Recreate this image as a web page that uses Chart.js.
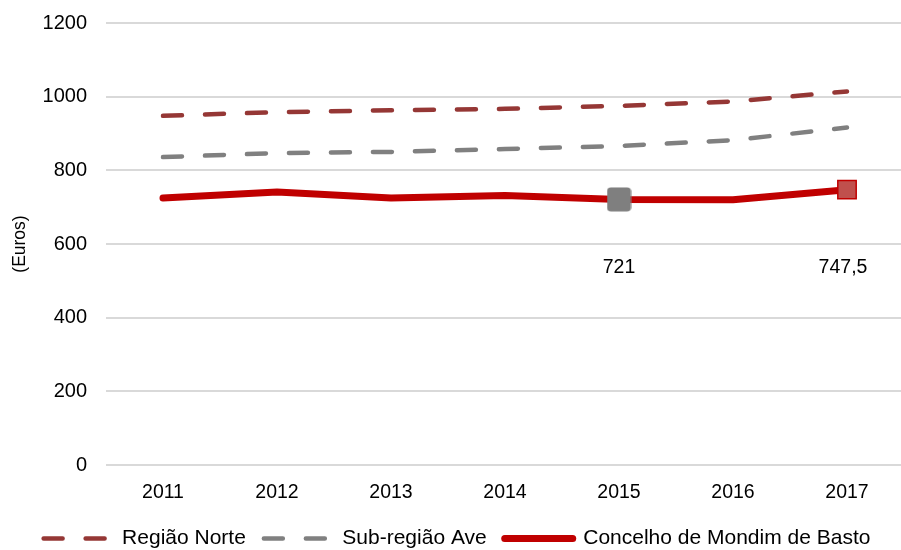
<!DOCTYPE html>
<html>
<head>
<meta charset="utf-8">
<script src="https://cdn.jsdelivr.net/npm/chart.js@4.4.0/dist/chart.umd.min.js"></script>
<style>
    html, body { margin: 0; padding: 0; background: #ffffff; overflow: hidden; }
    #wrap { position: relative; width: 904px; height: 550px; }
</style>
</head>
<body>
<div id="wrap"><canvas id="salarioChart"></canvas></div>
<script>
var years = ['2011', '2012', '2013', '2014', '2015', '2016', '2017'];
var regiaoNorte = [948, 958, 963, 967, 975, 987, 1014];
var subRegiaoAve = [836, 847, 850, 858, 866, 882, 916];
var mondimBasto = [725, 741, 725, 732, 721, 720, 747.5];
var mondimLabels = ['', '', '', '', '721', '', '747,5'];
var yTicks = [0, 200, 400, 600, 800, 1000, 1200];

var FONT = '"Liberation Sans", Arial, sans-serif';

// rounded grey marker for 2015
function makeRoundedMarker() {
    var c = document.createElement('canvas');
    c.width = 25;
    c.height = 25;
    var g = c.getContext('2d');
    g.fillStyle = '#7f7f7f';
    g.beginPath();
    g.roundRect(0.5, 0.5, 24, 24, 4);
    g.fill();
    return c;
}
var greyMarker = makeRoundedMarker();

var valueLabels = {
    id: 'valueLabels',
    afterDatasetsDraw: function(chart) {
        var ctx = chart.ctx;
        var meta = chart.getDatasetMeta(2);
        ctx.save();
        ctx.font = '19.5px ' + FONT;
        ctx.fillStyle = '#000000';
        ctx.textAlign = 'center';
        ctx.textBaseline = 'middle';
        for (var i = 0; i < mondimLabels.length; i++) {
            if (!mondimLabels[i]) continue;
            var pt = meta.data[i];
            ctx.fillText(mondimLabels[i], pt.x - (i === 6 ? 4 : 0), chart.scales.y.getPixelForValue(535));
        }
        ctx.restore();
    }
};

function noEdgePadding(scale) {
    scale.paddingLeft = 0;
    scale.paddingRight = 0;
    scale.paddingTop = 0;
    scale.paddingBottom = 0;
}

var ctx = document.getElementById('salarioChart').getContext('2d');
var chart = new Chart(ctx, {
    type: 'line',
    data: {
        labels: years,
        datasets: [
            {
                label: 'Região Norte',
                data: regiaoNorte,
                borderColor: '#953735',
                backgroundColor: '#953735',
                borderWidth: 4.5,
                borderDash: [19, 23],
                borderCapStyle: 'round',
                tension: 0,
                pointRadius: 0,
                fill: false
            },
            {
                label: 'Sub-região Ave',
                data: subRegiaoAve,
                borderColor: '#808080',
                backgroundColor: '#808080',
                borderWidth: 4.5,
                borderDash: [19, 23],
                borderCapStyle: 'round',
                tension: 0,
                pointRadius: 0,
                fill: false
            },
            {
                label: 'Concelho de Mondim de Basto',
                data: mondimBasto,
                borderColor: '#c00000',
                backgroundColor: '#c0504d',
                borderWidth: 7,
                borderCapStyle: 'round',
                borderJoinStyle: 'round',
                tension: 0,
                pointStyle: ['circle', 'circle', 'circle', 'circle', greyMarker, 'circle', 'rect'],
                pointRadius: [0, 0, 0, 0, 12, 0, 13],
                pointBorderWidth: [0, 0, 0, 0, 0, 0, 1.5],
                pointBorderColor: '#c00000',
                pointBackgroundColor: '#c0504d',
                pointHoverRadius: 0,
                fill: false
            }
        ]
    },
    options: {
        responsive: true,
        maintainAspectRatio: false,
        animation: false,
        layout: { autoPadding: false, padding: { left: 10, right: 0, top: 23, bottom: -9 } },
        plugins: {
            tooltip: { enabled: false },
            legend: {
                position: 'bottom',
                labels: {
                    color: '#000000',
                    font: { family: FONT, size: 21 },
                    usePointStyle: true,
                    pointStyleWidth: 68,
                    boxHeight: 20,
                    padding: 18,
                    generateLabels: function(chart) {
                        return chart.data.datasets.map(function(ds, i) {
                            return {
                                text: ds.label,
                                fillStyle: ds.borderColor,
                                strokeStyle: ds.borderColor,
                                lineWidth: ds.borderWidth,
                                lineDash: ds.borderDash || [],
                                lineCap: 'round',
                                pointStyle: 'line',
                                fontColor: '#000000',
                                datasetIndex: i,
                                hidden: false
                            };
                        });
                    }
                }
            }
        },
        scales: {
            x: {
                offset: true,
                afterFit: function(scale) {
                    noEdgePadding(scale);
                    scale.height = 45;
                },
                grid: { display: false, drawTicks: false },
                border: { display: false },
                ticks: {
                    color: '#000000',
                    font: { family: FONT, size: 19.5 },
                    padding: 16,
                    maxRotation: 0
                }
            },
            y: {
                min: 0,
                max: 1200,
                afterFit: function(scale) {
                    noEdgePadding(scale);
                    scale.width = 96;
                },
                afterBuildTicks: function(axis) {
                    axis.ticks = yTicks.map(function(v) { return { value: v }; });
                },
                grid: { color: '#d9d9d9', lineWidth: 2, drawTicks: false },
                border: { display: false },
                ticks: {
                    color: '#000000',
                    font: { family: FONT, size: 20 },
                    padding: 19,
                    callback: function(v) { return String(v); }
                },
                title: {
                    display: true,
                    text: '(Euros)',
                    color: '#000000',
                    font: { family: FONT, size: 17.5 },
                    padding: { top: 0, bottom: 12 }
                }
            }
        }
    },
    plugins: [valueLabels]
});
</script>
</body>
</html>
